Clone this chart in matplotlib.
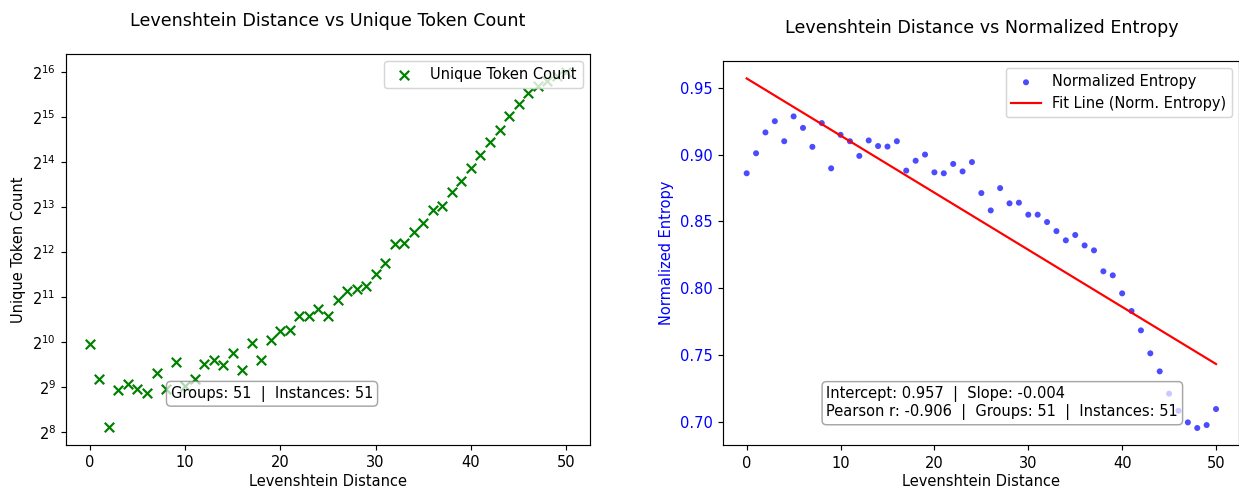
import numpy as np
import matplotlib
matplotlib.use("Agg")
import matplotlib.pyplot as plt

# Levenshtein distance buckets
distance = np.arange(51)

# unique token count per distance
unique_tokens = [1003, 584, 276, 488, 541, 501, 471, 639, 501, 755,
                 519, 580, 734, 781, 724, 873, 671, 1017, 776, 1053,
                 1209, 1235, 1531, 1535, 1710, 1525, 1964, 2257, 2336, 2435,
                 2937, 3468, 4671, 4690, 5595, 6427, 7802, 8362, 10294, 12328,
                 14971, 18302, 22379, 27170, 33708, 40342, 47646, 52900, 57100, 61570,
                 66200]

# normalized entropy per distance
norm_entropy = [0.886, 0.901, 0.9166, 0.925, 0.910, 0.9286, 0.920, 0.9058, 0.9236, 0.8897,
                0.9148, 0.910, 0.899, 0.9106, 0.9064, 0.906, 0.910, 0.888, 0.8954, 0.900,
                0.8867, 0.886, 0.893, 0.8874, 0.8944, 0.8712, 0.8582, 0.8749, 0.8635, 0.864,
                0.855, 0.855, 0.8495, 0.8427, 0.8358, 0.8398, 0.832, 0.8283, 0.8126, 0.8096,
                0.7961, 0.7829, 0.7684, 0.7512, 0.7377, 0.721, 0.7082, 0.6995, 0.6953, 0.6975,
                0.7095]

fit_intercept = 0.957
fit_slope = -0.004276
pearson_r = -0.906
n_groups = 51
n_instances = 51

DPI = 105
fig = plt.figure(figsize=(1239 / DPI, 489 / DPI), dpi=DPI)
ax1 = fig.add_axes([0.0533, 0.0900, 0.4229, 0.7996])
ax2 = fig.add_axes([0.5837, 0.0890, 0.4167, 0.7863])

# left: unique token count
ax1.scatter(distance, unique_tokens, marker="x", color="green", s=42, linewidths=1.5,
            label="Unique Token Count")
ax1.set_yscale("log", base=2)
ax1.set_xlabel("Levenshtein Distance", labelpad=2.5)
ax1.set_ylabel("Unique Token Count")
ax1.set_title("Levenshtein Distance vs Unique Token Count", fontsize=12, pad=19)
ax1.legend(loc="upper right")
ax1.text(0.2, 0.131, "Groups: %d  |  Instances: %d" % (n_groups, n_instances),
         transform=ax1.transAxes, ha="left", va="center", fontsize=10,
         bbox=dict(boxstyle="round,pad=0.3", facecolor="white", edgecolor="gray", alpha=0.7))

# right: normalized entropy + fit
ax2.scatter(distance, norm_entropy, color="blue", alpha=0.7, s=17, edgecolors="none",
            label="Normalized Entropy")
ax2.plot(distance, fit_intercept + fit_slope * distance, color="red", lw=1.5,
         label="Fit Line (Norm. Entropy)")
ax2.set_xlabel("Levenshtein Distance", labelpad=2)
ax2.set_ylabel("Normalized Entropy", color="blue")
ax2.tick_params(axis="y", labelcolor="blue")
ax2.set_title("Levenshtein Distance vs Normalized Entropy", fontsize=12, pad=19)
ax2.legend(loc="upper right")
ax2.text(0.2, 0.110,
         "Intercept: %.3f  |  Slope: %.3f\nPearson r: %.3f  |  Groups: %d  |  Instances: %d"
         % (fit_intercept, fit_slope, pearson_r, n_groups, n_instances),
         transform=ax2.transAxes, ha="left", va="center", fontsize=10,
         bbox=dict(boxstyle="round,pad=0.3", facecolor="white", edgecolor="gray", alpha=0.7))

fig.savefig("out.png", dpi=DPI)
